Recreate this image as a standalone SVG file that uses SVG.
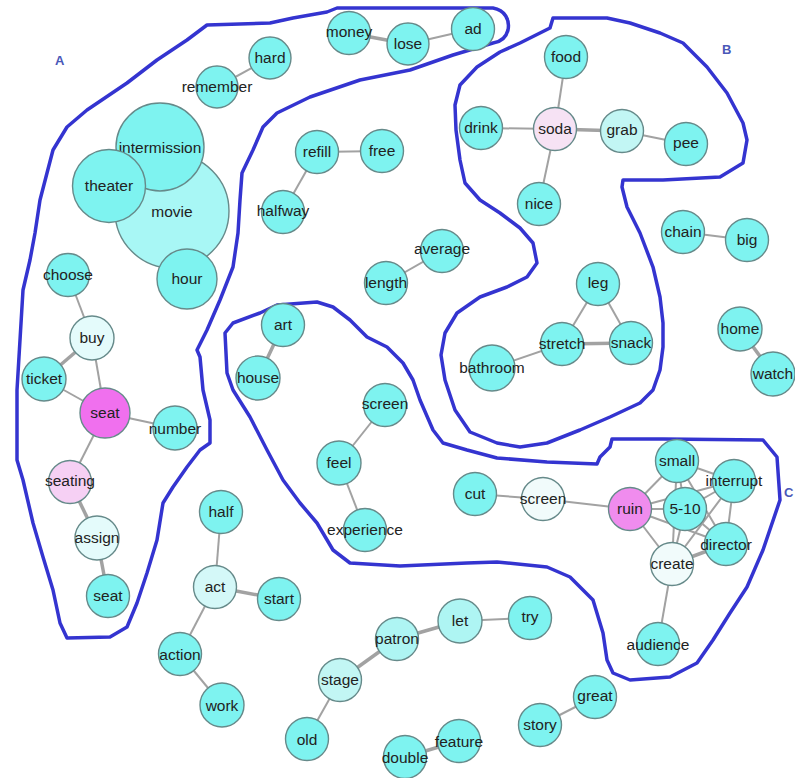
<svg xmlns="http://www.w3.org/2000/svg" width="795" height="778" viewBox="0 0 795 778">
<style>
.bg{fill:#ffffff}
.region{fill:none;stroke:#3434d0;stroke-width:3.5;stroke-linejoin:round;stroke-linecap:round}
.rlabel{font-family:"Liberation Sans",Arial,sans-serif;font-weight:bold;font-size:13px;fill:#4a58b8}
.e{stroke:#a2a2a2;stroke-width:2;fill:none}
.t{stroke-width:3.5}
circle{fill:#7ef3f0;stroke:#668a8a;stroke-width:1.4}
.movie{fill:#a8f7f5}
.pale1{fill:#e4fbfb}
.pale2{fill:#d4f8f8}
.pale3{fill:#c2f6f4}
.pale4{fill:#aef5f3}
.white{fill:#f1fbfb}
.mag{fill:#f070ee}
.ruin{fill:#f08cee}
.pink1{fill:#f6d0f4}
.pink2{fill:#f6e2f4}
text.l{font-family:"Liberation Sans",Arial,sans-serif;font-size:15.5px;fill:#222;text-anchor:middle}
</style>
<rect class="bg" x="0" y="0" width="795" height="778"/>
<g id="regions">
<path class="region" d="M337,8 L493,8 C505,10 510,20 508,30 C506,38 500,42 493,43 L453,55 L410,70 L360,80 L310,97 L277,113 L263,127 L253,150 L242,173 L240,200 L238,233 L233,267 L220,300 L207,330 L197,350 L200,357 L203,390 L210,420 L210,443 L200,450 L187,467 L173,487 L163,503 L157,540 L147,573 L137,603 L127,627 L110,637 L67,638 L60,623 L53,590 L43,557 L33,523 L23,480 L17,460 L17,390 L20,340 L23,290 L30,260 L35,233 L40,200 L47,173 L53,150 L67,127 L87,110 L127,83 L157,60 L187,40 L207,25 L270,23 L293,18 L327,12 Z"/>
<path class="region" d="M550,28 L553,18 L607,18 L630,23 L660,33 L683,43 L707,67 L727,93 L743,123 L747,140 L743,163 L720,177 L663,180 L623,180 L622,187 L627,207 L640,233 L653,267 L660,297 L663,323 L663,347 L660,370 L653,390 L640,403 L610,417 L580,430 L547,443 L520,447 L497,443 L470,432 L455,410 L445,380 L441,355 L445,333 L457,313 L480,297 L507,287 L527,277 L537,263 L533,243 L520,228 L500,213 L480,200 L465,183 L460,160 L456,130 L455,105 L460,85 L477,67 L500,52 L520,43 Z"/>
<path class="region" d="M233,323 L260,313 L277,305 L317,302 L333,307 L350,320 L367,337 L387,347 L403,363 L413,380 L420,400 L433,430 L443,443 L467,450 L497,458 L547,462 L597,464 L600,457 L610,447 L612,439 L663,439 L763,440 L777,457 L780,500 L763,550 L747,587 L730,613 L713,640 L697,663 L670,677 L630,680 L613,673 L607,660 L603,633 L593,600 L570,577 L547,567 L497,562 L467,563 L400,566 L350,563 L333,550 L317,523 L300,503 L283,480 L267,450 L250,417 L233,390 L227,373 L225,333 Z"/>
<text class="rlabel" x="55" y="65">A</text>
<text class="rlabel" x="722" y="54">B</text>
<text class="rlabel" x="784" y="497">C</text>
</g>
<g id="edges">
<line class="e" x1="217" y1="87" x2="270" y2="58"/>
<line class="e t" x1="349" y1="33" x2="408" y2="44"/>
<line class="e" x1="408" y1="44" x2="473" y2="29"/>
<line class="e" x1="68" y1="275" x2="92" y2="338"/>
<line class="e t" x1="92" y1="338" x2="44" y2="379"/>
<line class="e" x1="92" y1="338" x2="105" y2="413"/>
<line class="e" x1="44" y1="379" x2="105" y2="413"/>
<line class="e" x1="105" y1="413" x2="175" y2="428"/>
<line class="e" x1="105" y1="413" x2="70" y2="482"/>
<line class="e t" x1="70" y1="482" x2="97" y2="538"/>
<line class="e t" x1="97" y1="538" x2="108" y2="596"/>
<line class="e" x1="317" y1="152" x2="382" y2="151"/>
<line class="e" x1="317" y1="152" x2="283" y2="212"/>
<line class="e" x1="442" y1="251" x2="386" y2="283"/>
<line class="e" x1="566" y1="57" x2="555" y2="129"/>
<line class="e" x1="481" y1="128" x2="555" y2="129"/>
<line class="e t" x1="555" y1="129" x2="622" y2="131"/>
<line class="e" x1="622" y1="131" x2="686" y2="144"/>
<line class="e" x1="555" y1="129" x2="539" y2="204"/>
<line class="e" x1="683" y1="232" x2="747" y2="240"/>
<line class="e" x1="598" y1="284" x2="562" y2="344"/>
<line class="e" x1="598" y1="284" x2="631" y2="343"/>
<line class="e t" x1="562" y1="344" x2="631" y2="343"/>
<line class="e" x1="492" y1="368" x2="562" y2="344"/>
<line class="e t" x1="740" y1="329" x2="773" y2="374"/>
<line class="e t" x1="283" y1="325" x2="258" y2="378"/>
<line class="e" x1="385" y1="405" x2="339" y2="463"/>
<line class="e" x1="339" y1="463" x2="365" y2="530"/>
<line class="e" x1="475" y1="494" x2="543" y2="499"/>
<line class="e" x1="543" y1="499" x2="630" y2="509"/>
<line class="e" x1="630" y1="509" x2="677" y2="461"/>
<line class="e" x1="630" y1="509" x2="734" y2="481"/>
<line class="e" x1="630" y1="509" x2="685" y2="509"/>
<line class="e" x1="630" y1="509" x2="726" y2="544"/>
<line class="e" x1="630" y1="509" x2="672" y2="564"/>
<line class="e" x1="677" y1="461" x2="734" y2="481"/>
<line class="e" x1="677" y1="461" x2="685" y2="509"/>
<line class="e" x1="677" y1="461" x2="726" y2="544"/>
<line class="e" x1="677" y1="461" x2="672" y2="564"/>
<line class="e" x1="734" y1="481" x2="685" y2="509"/>
<line class="e" x1="734" y1="481" x2="726" y2="544"/>
<line class="e" x1="734" y1="481" x2="672" y2="564"/>
<line class="e" x1="685" y1="509" x2="726" y2="544"/>
<line class="e" x1="685" y1="509" x2="672" y2="564"/>
<line class="e t" x1="726" y1="544" x2="672" y2="564"/>
<line class="e" x1="672" y1="564" x2="658" y2="644"/>
<line class="e" x1="460" y1="621" x2="530" y2="618"/>
<line class="e t" x1="397" y1="639" x2="460" y2="621"/>
<line class="e t" x1="340" y1="680" x2="397" y2="639"/>
<line class="e" x1="340" y1="680" x2="307" y2="739"/>
<line class="e" x1="221" y1="512" x2="215" y2="587"/>
<line class="e t" x1="215" y1="587" x2="279" y2="599"/>
<line class="e" x1="215" y1="587" x2="180" y2="654"/>
<line class="e" x1="180" y1="654" x2="222" y2="705"/>
<line class="e t" x1="405" y1="757" x2="459" y2="741"/>
<line class="e" x1="540" y1="725" x2="595" y2="697"/>
</g>
<g id="nodes">
<g id="n-remember"><circle cx="217" cy="87" r="21"/><text class="l" x="217" y="87" dy="0.35em">remember</text></g>
<g id="n-hard"><circle cx="270" cy="58" r="21"/><text class="l" x="270" y="58" dy="0.35em">hard</text></g>
<g id="n-money"><circle cx="349" cy="33" r="21.5"/><text class="l" x="349" y="32" dy="0.35em">money</text></g>
<g id="n-lose"><circle cx="408" cy="44" r="21"/><text class="l" x="408" y="44" dy="0.35em">lose</text></g>
<g id="n-ad"><circle cx="473" cy="29" r="21.5"/><text class="l" x="473" y="29" dy="0.35em">ad</text></g>
<g id="n-movie"><circle class="movie" cx="172" cy="211" r="57"/><text class="l" x="172" y="212" dy="0.35em">movie</text></g>
<g id="n-intermission"><circle cx="160" cy="147" r="44"/><text class="l" x="160" y="148" dy="0.35em">intermission</text></g>
<g id="n-theater"><circle cx="109" cy="186" r="36.5"/><text class="l" x="109" y="186" dy="0.35em">theater</text></g>
<g id="n-hour"><circle cx="187" cy="279" r="30"/><text class="l" x="187" y="279" dy="0.35em">hour</text></g>
<g id="n-choose"><circle cx="68" cy="275" r="21.5"/><text class="l" x="68" y="275" dy="0.35em">choose</text></g>
<g id="n-buy"><circle class="pale1" cx="92" cy="338" r="22"/><text class="l" x="92" y="338" dy="0.35em">buy</text></g>
<g id="n-ticket"><circle cx="44" cy="379" r="22"/><text class="l" x="44" y="379" dy="0.35em">ticket</text></g>
<g id="n-seat"><circle class="mag" cx="105" cy="413" r="25"/><text class="l" x="105" y="413" dy="0.35em">seat</text></g>
<g id="n-number"><circle cx="175" cy="428" r="22"/><text class="l" x="175" y="429" dy="0.35em">number</text></g>
<g id="n-seating"><circle class="pink1" cx="70" cy="482" r="21.5"/><text class="l" x="70" y="481" dy="0.35em">seating</text></g>
<g id="n-assign"><circle class="pale1" cx="97" cy="538" r="22"/><text class="l" x="97" y="538" dy="0.35em">assign</text></g>
<g id="n-seat2"><circle cx="108" cy="596" r="21.5"/><text class="l" x="108" y="596" dy="0.35em">seat</text></g>
<g id="n-refill"><circle cx="317" cy="152" r="21.5"/><text class="l" x="317" y="152" dy="0.35em">refill</text></g>
<g id="n-free"><circle cx="382" cy="151" r="21.5"/><text class="l" x="382" y="151" dy="0.35em">free</text></g>
<g id="n-halfway"><circle cx="283" cy="212" r="21.5"/><text class="l" x="283" y="211" dy="0.35em">halfway</text></g>
<g id="n-average"><circle cx="442" cy="251" r="21.5"/><text class="l" x="442" y="249" dy="0.35em">average</text></g>
<g id="n-length"><circle cx="386" cy="283" r="21.5"/><text class="l" x="386" y="283" dy="0.35em">length</text></g>
<g id="n-food"><circle cx="566" cy="57" r="21.5"/><text class="l" x="566" y="57" dy="0.35em">food</text></g>
<g id="n-soda"><circle class="pink2" cx="555" cy="129" r="21.5"/><text class="l" x="555" y="129" dy="0.35em">soda</text></g>
<g id="n-drink"><circle cx="481" cy="128" r="21.5"/><text class="l" x="481" y="128" dy="0.35em">drink</text></g>
<g id="n-grab"><circle class="pale3" cx="622" cy="131" r="21.5"/><text class="l" x="622" y="130" dy="0.35em">grab</text></g>
<g id="n-pee"><circle cx="686" cy="144" r="21.5"/><text class="l" x="686" y="143" dy="0.35em">pee</text></g>
<g id="n-nice"><circle cx="539" cy="204" r="21.5"/><text class="l" x="539" y="204" dy="0.35em">nice</text></g>
<g id="n-chain"><circle cx="683" cy="232" r="21.5"/><text class="l" x="683" y="232" dy="0.35em">chain</text></g>
<g id="n-big"><circle cx="747" cy="240" r="21.5"/><text class="l" x="747" y="240" dy="0.35em">big</text></g>
<g id="n-leg"><circle cx="598" cy="284" r="21.5"/><text class="l" x="598" y="283" dy="0.35em">leg</text></g>
<g id="n-stretch"><circle cx="562" cy="344" r="21.5"/><text class="l" x="562" y="344" dy="0.35em">stretch</text></g>
<g id="n-snack"><circle cx="631" cy="343" r="21.5"/><text class="l" x="631" y="343" dy="0.35em">snack</text></g>
<g id="n-bathroom"><circle cx="492" cy="368" r="23"/><text class="l" x="492" y="368" dy="0.35em">bathroom</text></g>
<g id="n-home"><circle cx="740" cy="329" r="22"/><text class="l" x="740" y="329" dy="0.35em">home</text></g>
<g id="n-watch"><circle cx="773" cy="374" r="22"/><text class="l" x="773" y="374" dy="0.35em">watch</text></g>
<g id="n-art"><circle cx="283" cy="325" r="21.5"/><text class="l" x="283" y="325" dy="0.35em">art</text></g>
<g id="n-house"><circle cx="258" cy="378" r="22"/><text class="l" x="258" y="378" dy="0.35em">house</text></g>
<g id="n-screen"><circle cx="385" cy="405" r="21.5"/><text class="l" x="385" y="404" dy="0.35em">screen</text></g>
<g id="n-feel"><circle cx="339" cy="463" r="22"/><text class="l" x="339" y="463" dy="0.35em">feel</text></g>
<g id="n-experience"><circle cx="365" cy="530" r="21.5"/><text class="l" x="365" y="530" dy="0.35em">experience</text></g>
<g id="n-cut"><circle cx="475" cy="494" r="21.5"/><text class="l" x="475" y="494" dy="0.35em">cut</text></g>
<g id="n-screen2"><circle class="white" cx="543" cy="499" r="21.5"/><text class="l" x="543" y="499" dy="0.35em">screen</text></g>
<g id="n-ruin"><circle class="ruin" cx="630" cy="509" r="21.5"/><text class="l" x="630" y="509" dy="0.35em">ruin</text></g>
<g id="n-small"><circle cx="677" cy="461" r="21.5"/><text class="l" x="677" y="461" dy="0.35em">small</text></g>
<g id="n-interrupt"><circle cx="734" cy="481" r="21.5"/><text class="l" x="734" y="481" dy="0.35em">interrupt</text></g>
<g id="n-5-10"><circle cx="685" cy="509" r="21.5"/><text class="l" x="685" y="509" dy="0.35em">5-10</text></g>
<g id="n-director"><circle cx="726" cy="544" r="21.5"/><text class="l" x="726" y="545" dy="0.35em">director</text></g>
<g id="n-create"><circle class="white" cx="672" cy="564" r="21.5"/><text class="l" x="672" y="564" dy="0.35em">create</text></g>
<g id="n-audience"><circle cx="658" cy="644" r="21.5"/><text class="l" x="658" y="645" dy="0.35em">audience</text></g>
<g id="n-let"><circle class="pale4" cx="460" cy="621" r="22"/><text class="l" x="460" y="621" dy="0.35em">let</text></g>
<g id="n-try"><circle cx="530" cy="618" r="21.5"/><text class="l" x="530" y="617" dy="0.35em">try</text></g>
<g id="n-half"><circle cx="221" cy="512" r="21.5"/><text class="l" x="221" y="512" dy="0.35em">half</text></g>
<g id="n-act"><circle class="pale2" cx="215" cy="587" r="21.5"/><text class="l" x="215" y="587" dy="0.35em">act</text></g>
<g id="n-start"><circle cx="279" cy="599" r="21.5"/><text class="l" x="279" y="599" dy="0.35em">start</text></g>
<g id="n-action"><circle cx="180" cy="654" r="21.5"/><text class="l" x="180" y="655" dy="0.35em">action</text></g>
<g id="n-work"><circle cx="222" cy="705" r="22"/><text class="l" x="222" y="706" dy="0.35em">work</text></g>
<g id="n-patron"><circle class="pale4" cx="397" cy="639" r="21.5"/><text class="l" x="397" y="639" dy="0.35em">patron</text></g>
<g id="n-stage"><circle class="pale3" cx="340" cy="680" r="21.5"/><text class="l" x="340" y="680" dy="0.35em">stage</text></g>
<g id="n-old"><circle cx="307" cy="739" r="21.5"/><text class="l" x="307" y="740" dy="0.35em">old</text></g>
<g id="n-feature"><circle cx="459" cy="741" r="21.5"/><text class="l" x="459" y="742" dy="0.35em">feature</text></g>
<g id="n-double"><circle cx="405" cy="757" r="21.5"/><text class="l" x="405" y="758" dy="0.35em">double</text></g>
<g id="n-story"><circle cx="540" cy="725" r="21.5"/><text class="l" x="540" y="725" dy="0.35em">story</text></g>
<g id="n-great"><circle cx="595" cy="697" r="21.5"/><text class="l" x="595" y="696" dy="0.35em">great</text></g>
</g>
</svg>
